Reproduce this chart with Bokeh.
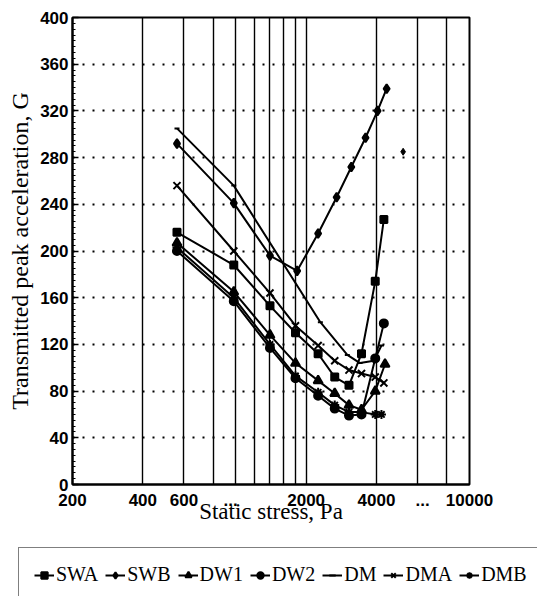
from bokeh.plotting import figure
from bokeh.layouts import column
from bokeh.models import FixedTicker, Legend, LegendItem, Range1d
from bokeh.embed import file_html
from bokeh.resources import INLINE

# Axis ticks and the vertical rules of the log paper
stress_ticks = [200, 400, 600, 950, 2000, 4000, 6300, 10000]
stress_tick_labels = ["200", "400", "600", "...", "2000", "4000", "...", "10000"]
stress_rules = [400, 600, 800, 1000, 1200, 1400, 1600, 1800, 2000, 4000, 6000, 8000]
accel_ticks = [0, 40, 80, 120, 160, 200, 240, 280, 320, 360, 400]
accel_minor = list(range(0, 401, 5))

# Static stress (Pa) and transmitted peak acceleration (G) for each cushion
swa_x = [560, 980, 1400, 1800, 2250, 2650, 3050, 3450, 3950, 4300]
swa_y = [216, 188, 153, 130, 112, 92, 85, 112, 174, 227]

swb_x = [560, 980, 1400, 1830, 2250, 2700, 3120, 3590, 4040, 4420]
swb_y = [292, 241, 196, 183, 215, 246, 272, 297, 320, 339]

dw1_x = [560, 980, 1400, 1800, 2250, 2650, 3050, 3450, 3950, 4350]
dw1_y = [207, 165, 128, 104, 89, 78, 68, 64, 80, 103]

dw2_x = [560, 980, 1400, 1800, 2250, 2650, 3050, 3450, 3950, 4300]
dw2_y = [200, 157, 117, 91, 76, 65, 59, 60, 108, 138]

dm_x = [560, 980, 2300, 3000, 3400, 3900, 4200]
dm_y = [305, 256, 139, 111, 104, 106, 119]

dma_x = [560, 980, 1400, 1800, 2250, 2650, 3050, 3450, 3950, 4300]
dma_y = [256, 200, 164, 136, 119, 106, 98, 95, 92, 87]

dmb_x = [560, 980, 1400, 1800, 2250, 2650, 3050, 3450, 3950, 4200]
dmb_y = [203, 160, 120, 93, 79, 68, 62, 62, 60, 60]

lone_x = [5200]
lone_y = [285]

series = [
    ("SWA", swa_x, swa_y, "square", 7),
    ("SWB", swb_x, swb_y, "diamond", 9),
    ("DW1", dw1_x, dw1_y, "triangle", 9),
    ("DW2", dw2_x, dw2_y, "circle", 8),
    ("DM", dm_x, dm_y, "dash", 5),
    ("DMA", dma_x, dma_y, "x", 10),
    ("DMB", dmb_x, dmb_y, "asterisk", 9),
]

p = figure(width=537, height=540, x_axis_type="log",
           x_range=Range1d(200, 10000), y_range=Range1d(0, 400),
           output_backend="svg", toolbar_location=None,
           min_border_left=72, min_border_right=68,
           min_border_top=17, min_border_bottom=56)
p.frame_align = False

p.background_fill_color = "white"
p.border_fill_color = "white"
p.outline_line_color = "black"
p.outline_line_width = 2

# x axis
xa = p.xaxis[0]
xa.ticker = FixedTicker(ticks=stress_ticks, minor_ticks=[])
xa.major_label_overrides = {t: s for t, s in zip(stress_ticks, stress_tick_labels)}
xa.major_tick_line_color = None
xa.minor_tick_line_color = None
xa.axis_line_width = 2
xa.major_label_standoff = 3
xa.major_label_text_font = "Liberation Sans"
xa.major_label_text_font_style = "bold"
xa.major_label_text_font_size = "17px"
xa.major_label_text_color = "black"
xa.axis_label = "Static stress, Pa"
xa.axis_label_text_font = "Liberation Serif"
xa.axis_label_text_font_style = "normal"
xa.axis_label_text_font_size = "23px"
xa.axis_label_text_color = "black"
xa.axis_label_standoff = -10

# y axis
ya = p.yaxis[0]
ya.ticker = FixedTicker(ticks=accel_ticks, minor_ticks=accel_minor)
ya.major_tick_in = 6
ya.major_tick_out = 0
ya.minor_tick_in = 3
ya.minor_tick_out = 0
ya.major_tick_line_width = 1.5
ya.axis_line_width = 2
ya.major_label_standoff = 4
ya.major_label_text_font = "Liberation Sans"
ya.major_label_text_font_style = "bold"
ya.major_label_text_font_size = "17px"
ya.major_label_text_color = "black"
ya.axis_label = "Transmitted peak acceleration, G"
ya.axis_label_text_font = "Liberation Serif"
ya.axis_label_text_font_style = "normal"
ya.axis_label_text_font_size = "24px"
ya.axis_label_text_color = "black"
ya.axis_label_standoff = 4

# grids: solid vertical rules, dotted horizontal rules
p.xgrid.ticker = FixedTicker(ticks=stress_rules, minor_ticks=[])
p.xgrid.grid_line_color = "black"
p.xgrid.grid_line_width = 1.4
p.ygrid.ticker = FixedTicker(ticks=accel_ticks[1:-1], minor_ticks=[])
p.ygrid.grid_line_color = "black"
p.ygrid.grid_line_width = 2
p.ygrid.grid_line_dash = "2 8"

for name, xs, ys, marker, size in series:
    p.line(xs, ys, line_color="black", line_width=2)
    p.scatter(xs, ys, marker=marker, size=size, fill_color="black",
              line_color="black", line_width=2)

p.scatter(lone_x, lone_y, marker="diamond", size=7, fill_color="black",
          line_color="black")

# Key strip underneath the chart; its sample glyphs sit outside its ranges
key = figure(width=537, height=56, x_range=Range1d(0, 1), y_range=Range1d(0, 1),
             output_backend="svg", toolbar_location=None,
             min_border=0, outline_line_color=None)
key.frame_align = False
key.axis.visible = False
key.grid.visible = False
key.background_fill_color = "white"
key.border_fill_color = "white"

items = []
for name, xs, ys, marker, size in series:
    lr = key.line([5, 6], [5, 6], line_color="black", line_width=2)
    sr = key.scatter([5], [5], marker=marker, size=size, fill_color="black",
                     line_color="black", line_width=2)
    items.append(LegendItem(label=name, renderers=[lr, sr]))

legend = Legend(items=items, orientation="horizontal", location=(18, -6),
                border_line_color="black", border_line_width=1.5,
                label_text_font="Liberation Serif", label_text_font_size="20px",
                label_text_color="black",
                glyph_width=20, glyph_height=16, label_standoff=2,
                spacing=7, padding=15, margin=0,
                background_fill_color="white", background_fill_alpha=1)
key.add_layout(legend, "center")

open("out.html", "w").write(file_html(column(p, key, spacing=0), INLINE))
